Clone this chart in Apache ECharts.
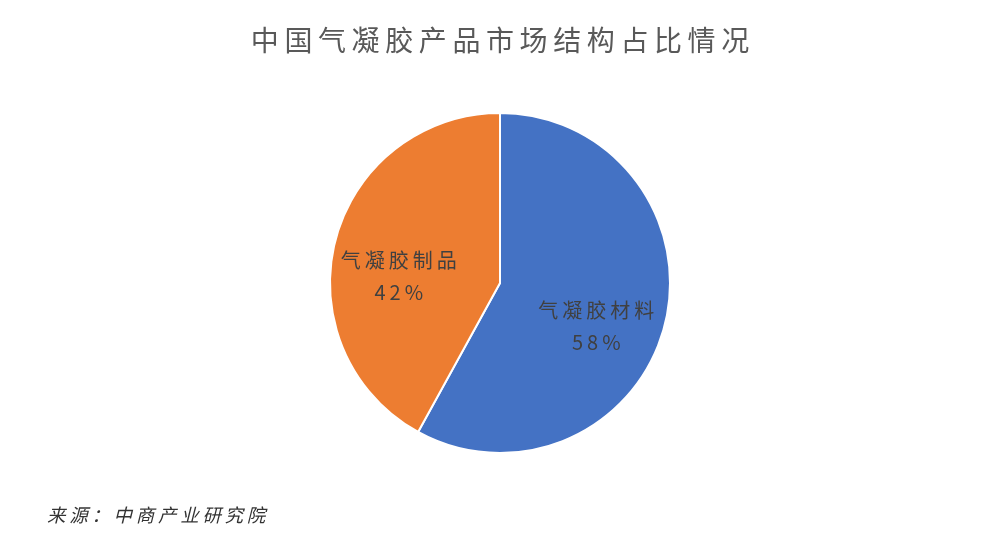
<!DOCTYPE html>
<html>
<head>
<meta charset="utf-8">
<script src="https://cdn.jsdelivr.net/npm/echarts@6/dist/echarts.min.js"></script>
<style>
  html, body { margin: 0; padding: 0; background: #fff; }
  #main { width: 1000px; height: 542px; }
</style>
</head>
<body>
<div id="main"></div>
<script>
// 数据
var categories = ['气凝胶材料', '气凝胶制品'];
var shares = [58, 42];
var colors = ['#4472C4', '#ED7D31'];
// 标签偏移（相对于默认 inside 位置）
var labelOffsets = [[11, 22], [-16, 15]];

// 字间距：字符之间插入细空格
function spaced(s) {
  return s.split('').join('\u2009');
}

var chart = echarts.init(document.getElementById('main'));

var pieData = categories.map(function (name, i) {
  return {
    name: name,
    value: shares[i],
    itemStyle: { color: colors[i] },
    label: { offset: labelOffsets[i] }
  };
});

var option = {
  backgroundColor: '#fff',
  animation: false,
  title: {
    text: spaced('中国气凝胶产品市场结构占比情况'),
    left: 'center',
    top: 21,
    textStyle: {
      fontFamily: 'Noto Sans CJK SC',
      fontSize: 28,
      fontWeight: 'normal',
      color: '#595959'
    }
  },
  graphic: [{
    type: 'text',
    left: 47,
    top: 506,
    style: {
      text: spaced('来源：中商产业研究院'),
      font: 'italic 18.5px "Noto Sans CJK SC"',
      fill: '#333'
    }
  }],
  series: [{
    type: 'pie',
    center: [500, 283],
    radius: [0, 170],
    startAngle: 90,
    clockwise: true,
    itemStyle: { borderColor: '#fff', borderWidth: 2 },
    label: {
      position: 'inside',
      formatter: function (p) {
        return spaced(p.name) + '\n' + spaced(p.value + '%');
      },
      fontFamily: 'Noto Sans CJK SC',
      fontSize: 20,
      lineHeight: 32,
      color: '#404040'
    },
    labelLine: { show: false },
    data: pieData
  }]
};

chart.setOption(option);
</script>
</body>
</html>
